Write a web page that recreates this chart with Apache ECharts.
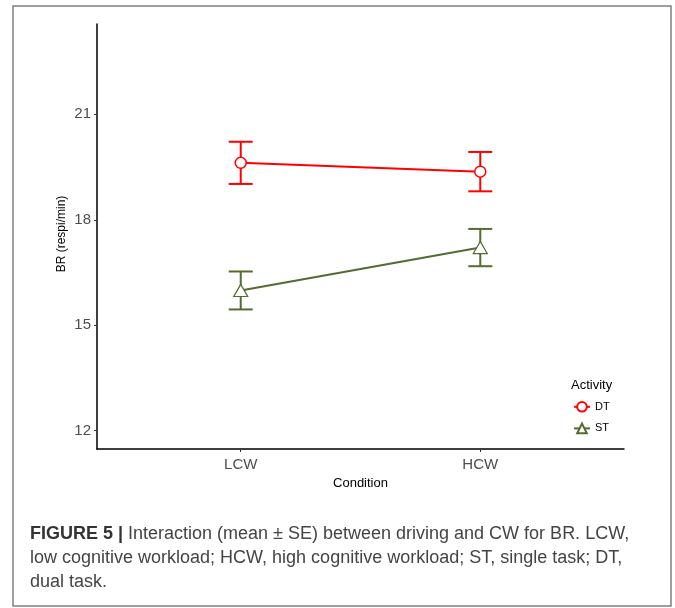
<!DOCTYPE html>
<html>
<head>
<meta charset="utf-8">
<script src="https://cdn.jsdelivr.net/npm/echarts@6/dist/echarts.min.js"></script>
<style>
html,body{margin:0;padding:0;background:#fff;}
#chart{width:675px;height:608px;}
</style>
</head>
<body>
<div id="chart"></div>
<script>
// ---- data ----
var categories = ['LCW', 'HCW'];
var activities = ['DT', 'ST'];
var dtMean = [19.62, 19.37];
var dtSE = [0.60, 0.56];
var stMean = [15.99, 17.21];
var stSE = [0.54, 0.53];
var yTicks = [12, 15, 18, 21];

var RED = '#FF0000';
var GREEN = '#556B2F';

function pts(means) {
  return means.map(function (m, i) { return [i + 1, m]; });
}
function errData(means, ses) {
  return means.map(function (m, i) { return [i + 1, m - ses[i], m + ses[i]]; });
}
function errSeries(means, ses, color) {
  return {
    type: 'custom',
    silent: true,
    z: 1,
    data: errData(means, ses),
    renderItem: function (params, api) {
      var x = api.value(0);
      var lo = api.coord([x, api.value(1)]);
      var hi = api.coord([x, api.value(2)]);
      var hw = 12;
      var st = { stroke: color, lineWidth: 2 };
      return {
        type: 'group',
        children: [
          { type: 'line', shape: { x1: lo[0], y1: lo[1], x2: hi[0], y2: hi[1] }, style: st },
          { type: 'line', shape: { x1: lo[0] - hw, y1: lo[1], x2: lo[0] + hw, y2: lo[1] }, style: st },
          { type: 'line', shape: { x1: hi[0] - hw, y1: hi[1], x2: hi[0] + hw, y2: hi[1] }, style: st }
        ]
      };
    }
  };
}

var chart = echarts.init(document.getElementById('chart'));
var capFont = '"Liberation Sans", Arial, sans-serif';
var axFont = 'Arial, "Liberation Sans", sans-serif';
var option = {
  animation: false,
  backgroundColor: '#fff',
  grid: { left: 97, right: 51, top: 24, bottom: 159, containLabel: false },
  xAxis: {
    type: 'value',
    min: 0.4, max: 2.6,
    splitLine: { show: false },
    axisLine: { lineStyle: { color: '#000', width: 1.5 } },
    axisTick: { show: true, length: 3, lineStyle: { color: '#333' }, customValues: [1, 2] },
    axisLabel: {
      customValues: [1, 2],
      formatter: function (v) { return categories[Math.round(v) - 1]; },
      color: '#4D4D4D', fontSize: 15, margin: 8, fontFamily: axFont
    },
    name: 'Condition', nameLocation: 'middle', nameGap: 27,
    nameTextStyle: { color: '#000', fontSize: 13, fontFamily: axFont }
  },
  yAxis: {
    type: 'value',
    min: 11.48, max: 23.57,
    splitLine: { show: false },
    axisLine: { show: true, lineStyle: { color: '#000', width: 1.5 } },
    axisTick: { show: true, length: 3, lineStyle: { color: '#333' }, customValues: yTicks },
    axisLabel: {
      customValues: yTicks,
      color: '#4D4D4D', fontSize: 15, margin: 6, fontFamily: axFont
    }
  },
  legend: {
    orient: 'vertical',
    left: 573, top: 401, padding: 0,
    itemGap: 10, itemWidth: 16, itemHeight: 12,
    data: activities,
    textStyle: { fontSize: 11, color: '#000', fontFamily: axFont }
  },
  series: [
    errSeries(dtMean, dtSE, RED),
    errSeries(stMean, stSE, GREEN),
    {
      name: activities[0], type: 'line', z: 3,
      data: pts(dtMean),
      symbol: 'circle', symbolSize: 11,
      lineStyle: { color: RED, width: 2 },
      itemStyle: { color: '#fff', borderColor: RED, borderWidth: 1.5 }
    },
    {
      name: activities[1], type: 'line', z: 3,
      data: pts(stMean),
      symbol: 'triangle', symbolSize: [14, 12],
      lineStyle: { color: GREEN, width: 2 },
      itemStyle: { color: '#fff', borderColor: GREEN, borderWidth: 1.2 }
    }
  ],
  graphic: [
    { type: 'rect', shape: { x: 13, y: 6, width: 658, height: 600 }, style: { fill: null, stroke: '#808080', lineWidth: 1.5 }, z: -1 },
    { type: 'text', x: 62, y: 234, rotation: Math.PI / 2, style: { text: 'BR (respi/min)', fontSize: 12, fill: '#000', fontFamily: axFont, align: 'center', verticalAlign: 'middle' } },
    { type: 'text', x: 571, y: 385, style: { text: 'Activity', fontSize: 13, fill: '#000', fontFamily: axFont, align: 'left', verticalAlign: 'middle' } },
    { type: 'text', x: 30, y: 534, style: {
        rich: {
          b: { fontWeight: 'bold', fontSize: 18, fill: '#333', fontFamily: capFont },
          n: { fontSize: 18, fill: '#444', fontFamily: capFont }
        },
        text: '{b|FIGURE 5 | }{n|Interaction (mean \u00B1 SE) between driving and CW for BR. LCW,}',
        verticalAlign: 'middle'
      } },
    { type: 'text', x: 30, y: 558, style: { text: 'low cognitive workload; HCW, high cognitive workload; ST, single task; DT,', fontSize: 18, fill: '#444', fontFamily: capFont, verticalAlign: 'middle' } },
    { type: 'text', x: 30, y: 582, style: { text: 'dual task.', fontSize: 18, fill: '#444', fontFamily: capFont, verticalAlign: 'middle' } }
  ]
};
chart.setOption(option);
</script>
</body>
</html>
